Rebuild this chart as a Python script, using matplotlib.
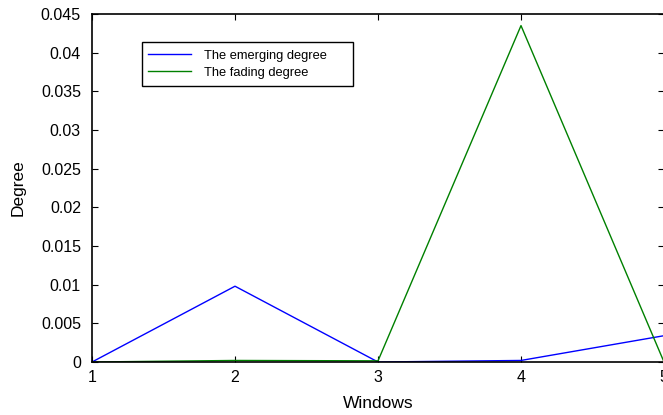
import matplotlib
matplotlib.use("Agg")
import matplotlib.pyplot as plt
from matplotlib.patches import Rectangle

plt.rcParams['font.family'] = ['Liberation Sans', 'DejaVu Sans']

windows = [1, 2, 3, 4, 5]
emerging = [0.0, 0.0098, 0.0, 0.0002, 0.0034]
fading = [0.0, 0.0002, 0.00015, 0.0435, 0.0]
yticks = [0, 0.005, 0.01, 0.015, 0.02, 0.025, 0.03, 0.035, 0.04, 0.045]
ytick_labels = ['0', '0.005', '0.01', '0.015', '0.02', '0.025', '0.03', '0.035', '0.04', '0.045']

fig = plt.figure(figsize=(6.63, 4.15), dpi=100)
ax = fig.add_axes([92 / 663, 1 - 362 / 415, 572 / 663, 348 / 415])

ax.plot(windows, emerging, color='#0000ff', lw=1.0, label='The emerging degree')
ax.plot(windows, fading, color='#008000', lw=1.0, label='The fading degree')

ax.set_xlim(1, 5)
ax.set_ylim(0, 0.045)
ax.set_xticks(windows)
ax.set_xticklabels([str(w) for w in windows])
ax.set_yticks(yticks)
ax.set_yticklabels(ytick_labels)
ax.tick_params(direction='in', top=True, right=True, length=4, width=0.8,
               labelsize=11.5)
ax.tick_params(axis='y', pad=8)
ax.tick_params(axis='x', pad=6)
for s in ax.spines.values():
    s.set_linewidth(1.2)

ax.set_xlabel('Windows', fontsize=12.5, labelpad=8)
ax.set_ylabel('Degree', fontsize=12.5, labelpad=11)

leg = ax.legend(loc='upper left', bbox_to_anchor=(50 / 572, 1 - 29 / 348),
                fontsize=9.3, frameon=False, handlelength=3.3,
                borderpad=0.5, labelspacing=0.42, handletextpad=1.0,
                borderaxespad=0)

# legend frame with extra room on the right, drawn as a separate box
fig.canvas.draw()
bb = leg.get_window_extent()
frame = Rectangle((bb.x0, bb.y0 - 1), bb.width + 20, bb.height + 2,
                  transform=None, facecolor='white', edgecolor='black',
                  linewidth=1.0, zorder=leg.get_zorder() - 0.1)
ax.add_artist(frame)

fig.savefig('out.png', dpi=100)
